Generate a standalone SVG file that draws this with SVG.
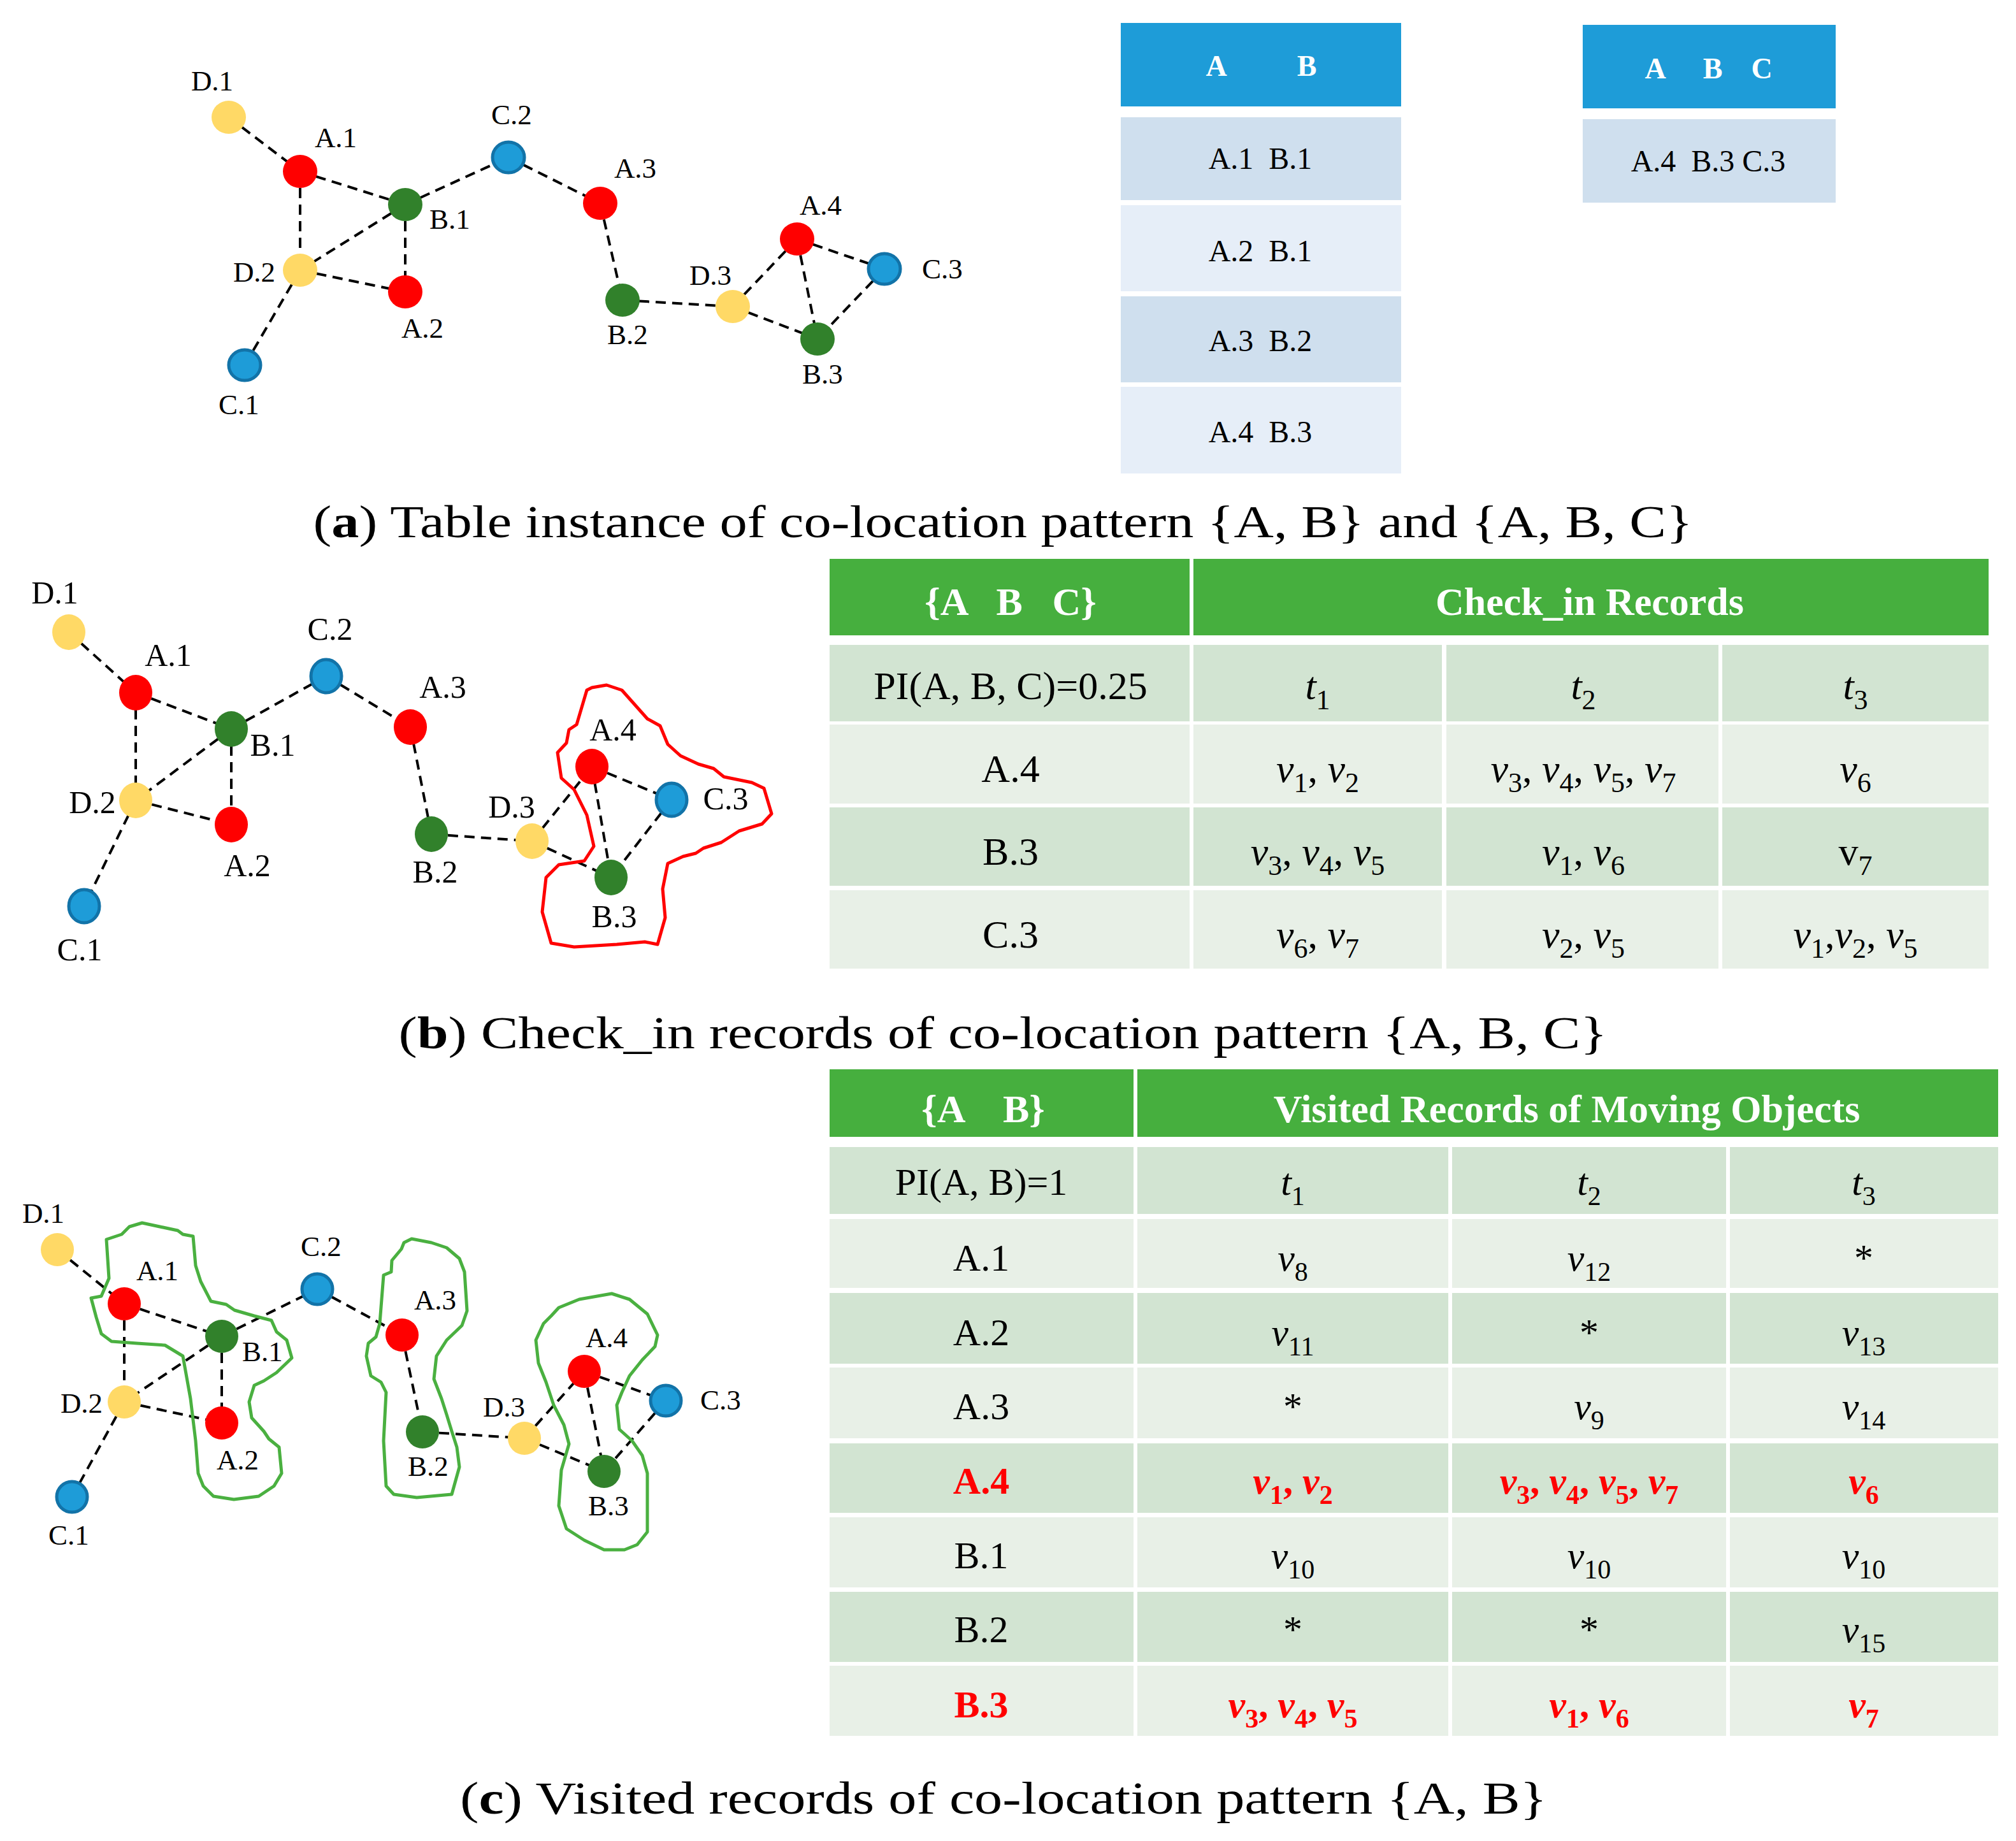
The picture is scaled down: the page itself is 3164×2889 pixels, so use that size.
<svg xmlns="http://www.w3.org/2000/svg" width="3164" height="2889" viewBox="0 0 3164 2889">
<style>
text{font-family:"Liberation Serif","Times New Roman",serif;fill:#000}
.e{stroke:#000;stroke-width:4;stroke-dasharray:16 10;fill:none}
.nA{fill:#FF0000}.nB{fill:#31812B}.nC{fill:#1E9CD8;stroke:#1273A8;stroke-width:5}.nD{fill:#FFD966}
.la{font-size:45px;text-anchor:middle}
.lb{font-size:50px;text-anchor:middle}
.hb{fill:#1E9CD8}.r1{fill:#CFDFEE}.r2{fill:#E6EEF8}
.hg{fill:#46AF3E}.g1{fill:#D2E4D2}.g2{fill:#E8F0E7}
.th{font-size:46px;font-weight:bold;fill:#fff;text-anchor:middle}
.tr{font-size:48px;text-anchor:middle}
.gh{font-size:62px;font-weight:bold;fill:#fff;text-anchor:middle}
.c{font-size:62px;text-anchor:middle}
.c2{font-size:60px;text-anchor:middle}
.red{fill:#FF0000;font-weight:bold}
.i{font-style:italic}
.cap{font-size:72px;text-anchor:middle}
.blob{fill:none;stroke-width:5;stroke-linejoin:round}
</style>

<!-- ===== (a) ===== -->
<g id="edges-a">
<line class="e" x1="359" y1="184" x2="471" y2="269"/>
<line class="e" x1="471" y1="269" x2="636" y2="321"/>
<line class="e" x1="471" y1="269" x2="471" y2="424"/>
<line class="e" x1="636" y1="321" x2="471" y2="424"/>
<line class="e" x1="636" y1="321" x2="636" y2="458"/>
<line class="e" x1="471" y1="424" x2="636" y2="458"/>
<line class="e" x1="471" y1="424" x2="384" y2="573"/>
<line class="e" x1="636" y1="321" x2="798" y2="247"/>
<line class="e" x1="798" y1="247" x2="942" y2="319"/>
<line class="e" x1="942" y1="319" x2="977" y2="471"/>
<line class="e" x1="977" y1="471" x2="1150" y2="481"/>
<line class="e" x1="1150" y1="481" x2="1251" y2="375"/>
<line class="e" x1="1150" y1="481" x2="1283" y2="532"/>
<line class="e" x1="1251" y1="375" x2="1283" y2="532"/>
<line class="e" x1="1251" y1="375" x2="1388" y2="422"/>
<line class="e" x1="1388" y1="422" x2="1283" y2="532"/>
</g>
<g id="a-D1"><ellipse class="nD" cx="359" cy="184" rx="27" ry="26"/><text class="la" x="333" y="142">D.1</text></g>
<g id="a-A1"><ellipse class="nA" cx="471" cy="269" rx="27" ry="26"/><text class="la" x="527" y="231">A.1</text></g>
<g id="a-B1"><ellipse class="nB" cx="636" cy="321" rx="27" ry="26"/><text class="la" x="706" y="359">B.1</text></g>
<g id="a-C2"><ellipse class="nC" cx="798" cy="247" rx="25" ry="24"/><text class="la" x="803" y="195">C.2</text></g>
<g id="a-A3"><ellipse class="nA" cx="942" cy="319" rx="27" ry="26"/><text class="la" x="997" y="279">A.3</text></g>
<g id="a-A2"><ellipse class="nA" cx="636" cy="458" rx="27" ry="26"/><text class="la" x="663" y="530">A.2</text></g>
<g id="a-D2"><ellipse class="nD" cx="471" cy="424" rx="27" ry="26"/><text class="la" x="399" y="442">D.2</text></g>
<g id="a-C1"><ellipse class="nC" cx="384" cy="573" rx="25" ry="24"/><text class="la" x="375" y="650">C.1</text></g>
<g id="a-B2"><ellipse class="nB" cx="977" cy="471" rx="27" ry="26"/><text class="la" x="985" y="540">B.2</text></g>
<g id="a-D3"><ellipse class="nD" cx="1150" cy="481" rx="27" ry="26"/><text class="la" x="1115" y="447">D.3</text></g>
<g id="a-A4"><ellipse class="nA" cx="1251" cy="375" rx="27" ry="26"/><text class="la" x="1288" y="337">A.4</text></g>
<g id="a-C3"><ellipse class="nC" cx="1388" cy="422" rx="25" ry="24"/><text class="la" x="1479" y="437">C.3</text></g>
<g id="a-B3"><ellipse class="nB" cx="1283" cy="532" rx="27" ry="26"/><text class="la" x="1291" y="602">B.3</text></g>

<g id="table-AB">
<rect class="hb" x="1759" y="36" width="440" height="131"/>
<text class="th" x="1909" y="119">A</text><text class="th" x="2051" y="119">B</text>
<rect class="r1" x="1759" y="184" width="440" height="130"/><text class="tr" x="1978" y="265" xml:space="preserve">A.1  B.1</text>
<rect class="r2" x="1759" y="322" width="440" height="135"/><text class="tr" x="1978" y="410" xml:space="preserve">A.2  B.1</text>
<rect class="r1" x="1759" y="465" width="440" height="135"/><text class="tr" x="1978" y="551" xml:space="preserve">A.3  B.2</text>
<rect class="r2" x="1759" y="607" width="440" height="136"/><text class="tr" x="1978" y="694" xml:space="preserve">A.4  B.3</text>
</g>
<g id="table-ABC">
<rect class="hb" x="2484" y="39" width="397" height="131"/>
<text class="th" x="2598" y="123">A</text><text class="th" x="2688" y="123">B</text><text class="th" x="2765" y="123">C</text>
<rect class="r1" x="2484" y="187" width="397" height="131"/><text class="tr" x="2681" y="269" xml:space="preserve">A.4  B.3 C.3</text>
</g>
<text class="cap" x="1574" y="843" textLength="2165" lengthAdjust="spacingAndGlyphs">(<tspan font-weight="bold">a</tspan>) Table instance of co-location pattern {A, B} and {A, B, C}</text>

<!-- ===== (b) ===== -->
<g id="edges-b">
<line class="e" x1="108" y1="992" x2="213" y2="1087"/>
<line class="e" x1="213" y1="1087" x2="363" y2="1144"/>
<line class="e" x1="213" y1="1087" x2="213" y2="1256"/>
<line class="e" x1="363" y1="1144" x2="213" y2="1256"/>
<line class="e" x1="363" y1="1144" x2="363" y2="1294"/>
<line class="e" x1="213" y1="1256" x2="363" y2="1294"/>
<line class="e" x1="213" y1="1256" x2="132" y2="1422"/>
<line class="e" x1="363" y1="1144" x2="512" y2="1061"/>
<line class="e" x1="512" y1="1061" x2="644" y2="1141"/>
<line class="e" x1="644" y1="1141" x2="677" y2="1309"/>
<line class="e" x1="677" y1="1309" x2="835" y2="1320"/>
<line class="e" x1="835" y1="1320" x2="929" y2="1203"/>
<line class="e" x1="835" y1="1320" x2="959" y2="1377"/>
<line class="e" x1="929" y1="1203" x2="959" y2="1377"/>
<line class="e" x1="929" y1="1203" x2="1054" y2="1255"/>
<line class="e" x1="1054" y1="1255" x2="959" y2="1377"/>
</g>
<g id="b-D1"><ellipse class="nD" cx="108" cy="992" rx="26" ry="28"/><text class="lb" x="86" y="947">D.1</text></g>
<g id="b-A1"><ellipse class="nA" cx="213" cy="1087" rx="26" ry="28"/><text class="lb" x="264" y="1045">A.1</text></g>
<g id="b-B1"><ellipse class="nB" cx="363" cy="1144" rx="26" ry="28"/><text class="lb" x="428" y="1186">B.1</text></g>
<g id="b-C2"><ellipse class="nC" cx="512" cy="1061" rx="24" ry="26"/><text class="lb" x="518" y="1004">C.2</text></g>
<g id="b-A3"><ellipse class="nA" cx="644" cy="1141" rx="26" ry="28"/><text class="lb" x="695" y="1095">A.3</text></g>
<g id="b-A2"><ellipse class="nA" cx="363" cy="1294" rx="26" ry="28"/><text class="lb" x="388" y="1375">A.2</text></g>
<g id="b-D2"><ellipse class="nD" cx="213" cy="1256" rx="26" ry="28"/><text class="lb" x="145" y="1276">D.2</text></g>
<g id="b-C1"><ellipse class="nC" cx="132" cy="1422" rx="24" ry="26"/><text class="lb" x="125" y="1507">C.1</text></g>
<g id="b-B2"><ellipse class="nB" cx="677" cy="1309" rx="26" ry="28"/><text class="lb" x="683" y="1385">B.2</text></g>
<g id="b-D3"><ellipse class="nD" cx="835" cy="1320" rx="26" ry="28"/><text class="lb" x="803" y="1283">D.3</text></g>
<g id="b-A4"><ellipse class="nA" cx="929" cy="1203" rx="26" ry="28"/><text class="lb" x="962" y="1162">A.4</text></g>
<g id="b-C3"><ellipse class="nC" cx="1054" cy="1255" rx="24" ry="26"/><text class="lb" x="1139" y="1270">C.3</text></g>
<g id="b-B3"><ellipse class="nB" cx="959" cy="1377" rx="26" ry="28"/><text class="lb" x="964" y="1455">B.3</text></g>
<path id="b-outline" class="blob" stroke="#FF0000" d="M929,1079 L952,1075 L976,1083 L1000,1110 L1016,1128 L1036,1139 L1048,1168 L1068,1186 L1096,1199 L1120,1206 L1136,1219 L1180,1228 L1199,1237 L1211,1277 L1196,1293 L1160,1304 L1132,1322 L1104,1331 L1092,1339 L1072,1344 L1048,1355 L1040,1395 L1044,1440 L1032,1482 L1012,1478 L968,1482 L901,1486 L865,1480 L851,1431 L857,1377 L877,1357 L917,1351 L932,1328 L921,1279 L901,1239 L881,1221 L875,1181 L889,1166 L893,1145 L905,1137 L913,1110 L921,1083 Z"/>

<g id="table-b">
<rect class="hg" x="1302" y="877" width="565" height="120"/>
<rect class="hg" x="1873" y="877" width="1248" height="120"/>
<text class="gh" x="1586" y="965" xml:space="preserve">{A   B   C}</text>
<text class="gh" x="2495" y="965">Check_in Records</text>
<rect class="g1" x="1302" y="1012" width="565" height="120"/><rect class="g1" x="1873" y="1012" width="390" height="120"/><rect class="g1" x="2270" y="1012" width="427" height="120"/><rect class="g1" x="2703" y="1012" width="418" height="120"/>
<rect class="g2" x="1302" y="1137" width="565" height="124"/><rect class="g2" x="1873" y="1137" width="390" height="124"/><rect class="g2" x="2270" y="1137" width="427" height="124"/><rect class="g2" x="2703" y="1137" width="418" height="124"/>
<rect class="g1" x="1302" y="1267" width="565" height="123"/><rect class="g1" x="1873" y="1267" width="390" height="123"/><rect class="g1" x="2270" y="1267" width="427" height="123"/><rect class="g1" x="2703" y="1267" width="418" height="123"/>
<rect class="g2" x="1302" y="1397" width="565" height="123"/><rect class="g2" x="1873" y="1397" width="390" height="123"/><rect class="g2" x="2270" y="1397" width="427" height="123"/><rect class="g2" x="2703" y="1397" width="418" height="123"/>
<text class="c" x="1586" y="1097">PI(A, B, C)=0.25</text>
<text class="c" x="2068" y="1097"><tspan class="i">t</tspan><tspan font-size="44" dy="16">1</tspan></text>
<text class="c" x="2485" y="1097"><tspan class="i">t</tspan><tspan font-size="44" dy="16">2</tspan></text>
<text class="c" x="2912" y="1097"><tspan class="i">t</tspan><tspan font-size="44" dy="16">3</tspan></text>
<text class="c" x="1586" y="1227">A.4</text>
<text class="c" x="2068" y="1227"><tspan class="i">v</tspan><tspan font-size="44" dy="16">1</tspan><tspan dy="-16">, </tspan><tspan class="i">v</tspan><tspan font-size="44" dy="16">2</tspan></text>
<text class="c" x="2485" y="1227"><tspan class="i">v</tspan><tspan font-size="44" dy="16">3</tspan><tspan dy="-16">, </tspan><tspan class="i">v</tspan><tspan font-size="44" dy="16">4</tspan><tspan dy="-16">, </tspan><tspan class="i">v</tspan><tspan font-size="44" dy="16">5</tspan><tspan dy="-16">, </tspan><tspan class="i">v</tspan><tspan font-size="44" dy="16">7</tspan></text>
<text class="c" x="2912" y="1227"><tspan class="i">v</tspan><tspan font-size="44" dy="16">6</tspan></text>
<text class="c" x="1586" y="1357">B.3</text>
<text class="c" x="2068" y="1357"><tspan class="i">v</tspan><tspan font-size="44" dy="16">3</tspan><tspan dy="-16">, </tspan><tspan class="i">v</tspan><tspan font-size="44" dy="16">4</tspan><tspan dy="-16">, </tspan><tspan class="i">v</tspan><tspan font-size="44" dy="16">5</tspan></text>
<text class="c" x="2485" y="1357"><tspan class="i">v</tspan><tspan font-size="44" dy="16">1</tspan><tspan dy="-16">, </tspan><tspan class="i">v</tspan><tspan font-size="44" dy="16">6</tspan></text>
<text class="c" x="2912" y="1357">v<tspan font-size="44" dy="16">7</tspan></text>
<text class="c" x="1586" y="1487">C.3</text>
<text class="c" x="2068" y="1487"><tspan class="i">v</tspan><tspan font-size="44" dy="16">6</tspan><tspan dy="-16">, </tspan><tspan class="i">v</tspan><tspan font-size="44" dy="16">7</tspan></text>
<text class="c" x="2485" y="1487"><tspan class="i">v</tspan><tspan font-size="44" dy="16">2</tspan><tspan dy="-16">, </tspan><tspan class="i">v</tspan><tspan font-size="44" dy="16">5</tspan></text>
<text class="c" x="2912" y="1487"><tspan class="i">v</tspan><tspan font-size="44" dy="16">1</tspan><tspan dy="-16">,</tspan><tspan class="i">v</tspan><tspan font-size="44" dy="16">2</tspan><tspan dy="-16">, </tspan><tspan class="i">v</tspan><tspan font-size="44" dy="16">5</tspan></text>
</g>
<text class="cap" x="1574" y="1645" textLength="1897" lengthAdjust="spacingAndGlyphs">(<tspan font-weight="bold">b</tspan>) Check_in records of co-location pattern {A, B, C}</text>

<!-- ===== (c) ===== -->
<g id="edges-c">
<line class="e" x1="90" y1="1961" x2="195" y2="2046"/>
<line class="e" x1="195" y1="2046" x2="348" y2="2097"/>
<line class="e" x1="195" y1="2046" x2="195" y2="2200"/>
<line class="e" x1="348" y1="2097" x2="195" y2="2200"/>
<line class="e" x1="348" y1="2097" x2="348" y2="2233"/>
<line class="e" x1="195" y1="2200" x2="348" y2="2233"/>
<line class="e" x1="195" y1="2200" x2="113" y2="2349"/>
<line class="e" x1="348" y1="2097" x2="498" y2="2023"/>
<line class="e" x1="498" y1="2023" x2="631" y2="2095"/>
<line class="e" x1="631" y1="2095" x2="663" y2="2247"/>
<line class="e" x1="663" y1="2247" x2="823" y2="2257"/>
<line class="e" x1="823" y1="2257" x2="917" y2="2152"/>
<line class="e" x1="823" y1="2257" x2="948" y2="2309"/>
<line class="e" x1="917" y1="2152" x2="948" y2="2309"/>
<line class="e" x1="917" y1="2152" x2="1045" y2="2198"/>
<line class="e" x1="1045" y1="2198" x2="948" y2="2309"/>
</g>
<g id="c-D1"><ellipse class="nD" cx="90" cy="1961" rx="26" ry="26"/><text class="la" x="68" y="1919">D.1</text></g>
<g id="c-A1"><ellipse class="nA" cx="195" cy="2046" rx="26" ry="26"/><text class="la" x="247" y="2009">A.1</text></g>
<g id="c-B1"><ellipse class="nB" cx="348" cy="2097" rx="26" ry="26"/><text class="la" x="412" y="2136">B.1</text></g>
<g id="c-C2"><ellipse class="nC" cx="498" cy="2023" rx="24" ry="24"/><text class="la" x="504" y="1971">C.2</text></g>
<g id="c-A3"><ellipse class="nA" cx="631" cy="2095" rx="26" ry="26"/><text class="la" x="683" y="2055">A.3</text></g>
<g id="c-A2"><ellipse class="nA" cx="348" cy="2233" rx="26" ry="26"/><text class="la" x="373" y="2306">A.2</text></g>
<g id="c-D2"><ellipse class="nD" cx="195" cy="2200" rx="26" ry="26"/><text class="la" x="128" y="2217">D.2</text></g>
<g id="c-C1"><ellipse class="nC" cx="113" cy="2349" rx="24" ry="24"/><text class="la" x="108" y="2424">C.1</text></g>
<g id="c-B2"><ellipse class="nB" cx="663" cy="2247" rx="26" ry="26"/><text class="la" x="672" y="2316">B.2</text></g>
<g id="c-D3"><ellipse class="nD" cx="823" cy="2257" rx="26" ry="26"/><text class="la" x="791" y="2223">D.3</text></g>
<g id="c-A4"><ellipse class="nA" cx="917" cy="2152" rx="26" ry="26"/><text class="la" x="952" y="2114">A.4</text></g>
<g id="c-C3"><ellipse class="nC" cx="1045" cy="2198" rx="24" ry="24"/><text class="la" x="1131" y="2212">C.3</text></g>
<g id="c-B3"><ellipse class="nB" cx="948" cy="2309" rx="26" ry="26"/><text class="la" x="955" y="2378">B.3</text></g>
<g id="c-outlines" class="blob" stroke="#4AB040">
<path d="M167,1945 L191,1937 L203,1925 L223,1919 L279,1931 L287,1937 L303,1940 L307,1986 L315,2011 L331,2042 L355,2047 L368,2056 L399,2065 L426,2072 L434,2090 L450,2103 L458,2131 L434,2154 L414,2167 L399,2174 L391,2200 L395,2225 L414,2246 L422,2258 L438,2271 L442,2312 L430,2332 L406,2348 L367,2353 L335,2348 L319,2332 L311,2312 L307,2261 L299,2195 L287,2128 L259,2111 L215,2108 L175,2105 L159,2093 L151,2067 L143,2037 L159,2034 L171,2006 Z"/>
<path d="M634,1950 L646,1944 L677,1950 L701,1958 L721,1975 L729,1996 L733,2057 L725,2080 L701,2103 L685,2128 L681,2164 L693,2195 L701,2220 L709,2246 L717,2271 L721,2302 L709,2345 L654,2350 L618,2345 L606,2332 L602,2261 L606,2185 L598,2169 L582,2159 L575,2128 L578,2108 L590,2098 L596,2077 L602,2001 L614,1996 L615,1978 L630,1960 Z"/>
<path d="M877,2052 L909,2039 L960,2030 L988,2039 L1016,2062 L1032,2095 L1028,2113 L1008,2134 L988,2159 L976,2185 L968,2205 L972,2243 L992,2261 L1008,2284 L1016,2312 L1016,2404 L1000,2424 L980,2432 L948,2432 L917,2417 L889,2399 L877,2363 L881,2307 L893,2266 L885,2236 L869,2205 L857,2169 L845,2139 L841,2103 L853,2077 L865,2065 Z"/>
</g>

<g id="table-c">
<rect class="hg" x="1302" y="1678" width="477" height="106"/>
<rect class="hg" x="1785" y="1678" width="1351" height="106"/>
<text class="gh" x="1543" y="1761" font-size="58" xml:space="preserve">{A    B}</text>
<text class="gh" x="2459" y="1761" font-size="58">Visited Records of Moving Objects</text>
<g>
<rect class="g1" x="1302" y="1800" width="477" height="105"/><rect class="g1" x="1785" y="1800" width="488" height="105"/><rect class="g1" x="2279" y="1800" width="430" height="105"/><rect class="g1" x="2715" y="1800" width="421" height="105"/>
<rect class="g2" x="1302" y="1913" width="477" height="108"/><rect class="g2" x="1785" y="1913" width="488" height="108"/><rect class="g2" x="2279" y="1913" width="430" height="108"/><rect class="g2" x="2715" y="1913" width="421" height="108"/>
<rect class="g1" x="1302" y="2029" width="477" height="111"/><rect class="g1" x="1785" y="2029" width="488" height="111"/><rect class="g1" x="2279" y="2029" width="430" height="111"/><rect class="g1" x="2715" y="2029" width="421" height="111"/>
<rect class="g2" x="1302" y="2146" width="477" height="111"/><rect class="g2" x="1785" y="2146" width="488" height="111"/><rect class="g2" x="2279" y="2146" width="430" height="111"/><rect class="g2" x="2715" y="2146" width="421" height="111"/>
<rect class="g1" x="1302" y="2265" width="477" height="109"/><rect class="g1" x="1785" y="2265" width="488" height="109"/><rect class="g1" x="2279" y="2265" width="430" height="109"/><rect class="g1" x="2715" y="2265" width="421" height="109"/>
<rect class="g2" x="1302" y="2381" width="477" height="110"/><rect class="g2" x="1785" y="2381" width="488" height="110"/><rect class="g2" x="2279" y="2381" width="430" height="110"/><rect class="g2" x="2715" y="2381" width="421" height="110"/>
<rect class="g1" x="1302" y="2498" width="477" height="110"/><rect class="g1" x="1785" y="2498" width="488" height="110"/><rect class="g1" x="2279" y="2498" width="430" height="110"/><rect class="g1" x="2715" y="2498" width="421" height="110"/>
<rect class="g2" x="1302" y="2614" width="477" height="110"/><rect class="g2" x="1785" y="2614" width="488" height="110"/><rect class="g2" x="2279" y="2614" width="430" height="110"/><rect class="g2" x="2715" y="2614" width="421" height="110"/>
</g>
<text class="c2" x="1540" y="1875">PI(A, B)=1</text>
<text class="c2" x="2029" y="1875"><tspan class="i">t</tspan><tspan font-size="42" dy="16">1</tspan></text>
<text class="c2" x="2494" y="1875"><tspan class="i">t</tspan><tspan font-size="42" dy="16">2</tspan></text>
<text class="c2" x="2925" y="1875"><tspan class="i">t</tspan><tspan font-size="42" dy="16">3</tspan></text>

<text class="c2" x="1540" y="1994">A.1</text>
<text class="c2" x="2029" y="1994"><tspan class="i">v</tspan><tspan font-size="42" dy="16">8</tspan></text>
<text class="c2" x="2494" y="1994"><tspan class="i">v</tspan><tspan font-size="42" dy="16">12</tspan></text>
<text class="c2" x="2925" y="1994">*</text>

<text class="c2" x="1540" y="2111">A.2</text>
<text class="c2" x="2029" y="2111"><tspan class="i">v</tspan><tspan font-size="42" dy="16">11</tspan></text>
<text class="c2" x="2494" y="2111">*</text>
<text class="c2" x="2925" y="2111"><tspan class="i">v</tspan><tspan font-size="42" dy="16">13</tspan></text>

<text class="c2" x="1540" y="2227">A.3</text>
<text class="c2" x="2029" y="2227">*</text>
<text class="c2" x="2494" y="2227"><tspan class="i">v</tspan><tspan font-size="42" dy="16">9</tspan></text>
<text class="c2" x="2925" y="2227"><tspan class="i">v</tspan><tspan font-size="42" dy="16">14</tspan></text>

<text class="c2 red" x="1540" y="2344">A.4</text>
<text class="c2 red" x="2029" y="2344"><tspan class="i">v</tspan><tspan font-size="42" dy="16">1</tspan><tspan dy="-16">, </tspan><tspan class="i">v</tspan><tspan font-size="42" dy="16">2</tspan></text>
<text class="c2 red" x="2494" y="2344"><tspan class="i">v</tspan><tspan font-size="42" dy="16">3</tspan><tspan dy="-16">, </tspan><tspan class="i">v</tspan><tspan font-size="42" dy="16">4</tspan><tspan dy="-16">, </tspan><tspan class="i">v</tspan><tspan font-size="42" dy="16">5</tspan><tspan dy="-16">, </tspan><tspan class="i">v</tspan><tspan font-size="42" dy="16">7</tspan></text>
<text class="c2 red" x="2925" y="2344"><tspan class="i">v</tspan><tspan font-size="42" dy="16">6</tspan></text>

<text class="c2" x="1540" y="2461">B.1</text>
<text class="c2" x="2029" y="2461"><tspan class="i">v</tspan><tspan font-size="42" dy="16">10</tspan></text>
<text class="c2" x="2494" y="2461"><tspan class="i">v</tspan><tspan font-size="42" dy="16">10</tspan></text>
<text class="c2" x="2925" y="2461"><tspan class="i">v</tspan><tspan font-size="42" dy="16">10</tspan></text>

<text class="c2" x="1540" y="2577">B.2</text>
<text class="c2" x="2029" y="2577">*</text>
<text class="c2" x="2494" y="2577">*</text>
<text class="c2" x="2925" y="2577"><tspan class="i">v</tspan><tspan font-size="42" dy="16">15</tspan></text>

<text class="c2 red" x="1540" y="2695">B.3</text>
<text class="c2 red" x="2029" y="2695"><tspan class="i">v</tspan><tspan font-size="42" dy="16">3</tspan><tspan dy="-16">, </tspan><tspan class="i">v</tspan><tspan font-size="42" dy="16">4</tspan><tspan dy="-16">, </tspan><tspan class="i">v</tspan><tspan font-size="42" dy="16">5</tspan></text>
<text class="c2 red" x="2494" y="2695"><tspan class="i">v</tspan><tspan font-size="42" dy="16">1</tspan><tspan dy="-16">, </tspan><tspan class="i">v</tspan><tspan font-size="42" dy="16">6</tspan></text>
<text class="c2 red" x="2925" y="2695"><tspan class="i">v</tspan><tspan font-size="42" dy="16">7</tspan></text>
</g>
<text class="cap" x="1575" y="2846" textLength="1706" lengthAdjust="spacingAndGlyphs">(<tspan font-weight="bold">c</tspan>) Visited records of co-location pattern {A, B}</text>
</svg>
